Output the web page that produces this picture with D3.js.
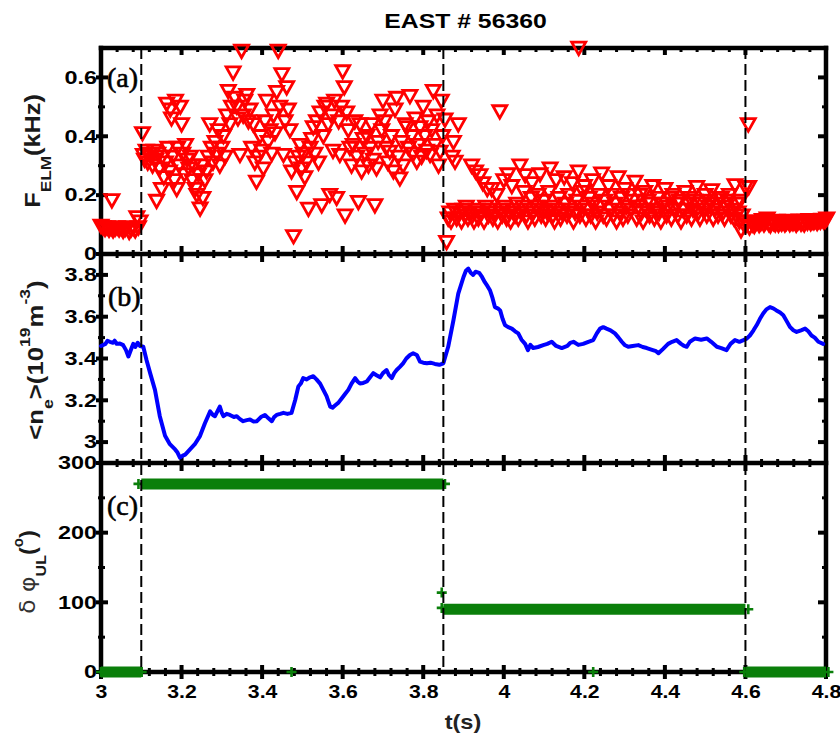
<!DOCTYPE html>
<html>
<head>
<meta charset="utf-8">
<script src="https://cdn.jsdelivr.net/npm/d3@7"></script>
<style>
  html, body { margin: 0; padding: 0; background: #fff; }
  svg { display: block; }
</style>
</head>
<body>
<svg id="chart" width="840" height="736"></svg>
<script>
// ---------------------------------------------------------------
// EAST shot 56360: ELM frequency, line-averaged density and the
// upper/lower RMP coil phase difference versus time.
// ---------------------------------------------------------------

// ELM frequency (kHz) as [time (s), frequency] pairs, by time window
const elmBeforeRmp = [
  [3.000,0.095],[3.005,0.090],[3.010,0.085],[3.015,0.090],[3.020,0.082],[3.025,0.088],
  [3.027,0.182],[3.030,0.080],[3.035,0.086],[3.040,0.090],[3.045,0.083],[3.050,0.088],
  [3.055,0.078],[3.060,0.085],[3.065,0.090],[3.070,0.075],[3.075,0.084],[3.080,0.088],
  [3.085,0.080],[3.089,0.124],[3.093,0.090],[3.097,0.110]
];
const elmPhase270 = [
  [3.103,0.41],[3.105,0.336],[3.108,0.32],[3.112,0.35],[3.116,0.31],[3.120,0.34],[3.124,0.33],
  [3.128,0.30],[3.132,0.35],[3.136,0.32],[3.138,0.18],[3.141,0.34],[3.145,0.29],[3.150,0.22],
  [3.152,0.33],[3.156,0.26],[3.160,0.31],[3.163,0.51],[3.166,0.36],[3.170,0.28],[3.172,0.49],
  [3.175,0.46],[3.178,0.33],[3.182,0.25],[3.185,0.52],[3.188,0.22],[3.190,0.36],[3.194,0.30],
  [3.197,0.50],[3.200,0.44],[3.203,0.34],[3.207,0.27],[3.210,0.37],[3.214,0.32],[3.218,0.29],
  [3.222,0.33],[3.226,0.25],[3.230,0.30],[3.234,0.22],[3.238,0.20],[3.242,0.27],[3.246,0.154],
  [3.250,0.30],[3.253,0.19],[3.258,0.25],[3.262,0.28],[3.266,0.33],[3.270,0.44],[3.274,0.36],
  [3.278,0.31],[3.283,0.38],[3.287,0.34],[3.291,0.42],[3.295,0.30],[3.300,0.36],[3.304,0.40],
  [3.308,0.33],[3.312,0.47],[3.316,0.553],[3.320,0.44],[3.324,0.50],[3.328,0.616],[3.332,0.53],
  [3.337,0.50],[3.340,0.46],[3.345,0.336],[3.349,0.69],[3.353,0.47],[3.357,0.52],[3.362,0.54],
  [3.366,0.45],[3.370,0.49],[3.374,0.36],[3.378,0.44],[3.382,0.31],[3.386,0.245],[3.390,0.33],
  [3.395,0.40],[3.399,0.35],[3.403,0.29],[3.407,0.45],[3.411,0.52],[3.415,0.38],[3.420,0.42],
  [3.424,0.34],[3.428,0.47],[3.432,0.41],[3.436,0.55],[3.440,0.69],[3.444,0.50],[3.449,0.61],
  [3.453,0.336],[3.457,0.45],[3.461,0.566],[3.465,0.49],[3.469,0.42],[3.473,0.28],[3.478,0.06],
  [3.482,0.31],[3.486,0.21],[3.490,0.33],[3.494,0.37],[3.498,0.29],[3.502,0.34],[3.506,0.26],
  [3.510,0.31],[3.515,0.153],[3.519,0.36],[3.523,0.39],[3.527,0.43],[3.531,0.34],[3.535,0.45],
  [3.540,0.31],[3.544,0.48],[3.548,0.165],[3.552,0.40],[3.556,0.50],[3.560,0.51],[3.564,0.44],
  [3.568,0.20],[3.572,0.47],[3.576,0.35],[3.580,0.52],[3.585,0.19],[3.590,0.45],[3.593,0.336],
  [3.597,0.50],[3.600,0.62],[3.604,0.566],[3.606,0.13],[3.610,0.48],[3.614,0.42],[3.618,0.36],
  [3.622,0.30],[3.626,0.37],[3.630,0.45],[3.635,0.33],[3.639,0.176],[3.643,0.44],[3.647,0.28],
  [3.651,0.39],[3.655,0.34],[3.660,0.40],[3.664,0.30],[3.668,0.36],[3.672,0.44],[3.676,0.32],
  [3.680,0.165],[3.684,0.29],[3.688,0.38],[3.693,0.47],[3.697,0.42],[3.700,0.52],[3.704,0.45],
  [3.708,0.36],[3.712,0.31],[3.717,0.347],[3.721,0.40],[3.726,0.28],[3.730,0.49],[3.734,0.53],
  [3.738,0.33],[3.742,0.256],[3.746,0.38],[3.750,0.30],[3.755,0.44],[3.759,0.43],[3.763,0.36],
  [3.767,0.536],[3.771,0.40],[3.775,0.34],[3.780,0.46],[3.784,0.313],[3.788,0.37],[3.792,0.43],
  [3.796,0.33],[3.800,0.50],[3.804,0.40],[3.808,0.35],[3.812,0.45],[3.817,0.336],[3.821,0.42],
  [3.825,0.553],[3.829,0.37],[3.834,0.47],[3.838,0.30],[3.842,0.347],[3.845,0.52],[3.848,0.40]
];
const elmPhase90 = [
  [3.854,0.456],[3.858,0.04],[3.862,0.12],[3.866,0.14],[3.869,0.11],[3.872,0.33],[3.875,0.38],
  [3.878,0.15],[3.879,0.313],[3.883,0.12],[3.887,0.44],[3.890,0.14],[3.895,0.11],[3.899,0.15],
  [3.903,0.13],[3.907,0.16],[3.911,0.12],[3.915,0.14],[3.920,0.30],[3.922,0.13],[3.926,0.11],
  [3.930,0.28],[3.933,0.15],[3.937,0.12],[3.941,0.267],[3.944,0.14],[3.948,0.24],[3.951,0.11],
  [3.955,0.16],[3.959,0.22],[3.962,0.13],[3.966,0.15],[3.970,0.22],[3.973,0.12],[3.977,0.14],
  [3.982,0.20],[3.985,0.11],[3.990,0.484],[3.992,0.15],[3.996,0.13],[4.000,0.25],[4.003,0.16],
  [4.007,0.12],[4.010,0.27],[4.013,0.14],[4.017,0.11],[4.020,0.23],[4.024,0.15],[4.028,0.13],
  [4.032,0.17],[4.036,0.12],[4.040,0.30],[4.043,0.14],[4.047,0.16],[4.050,0.21],[4.053,0.267],
  [4.056,0.13],[4.060,0.11],[4.064,0.15],[4.068,0.19],[4.070,0.24],[4.073,0.14],[4.077,0.12],
  [4.081,0.16],[4.085,0.20],[4.090,0.27],[4.093,0.13],[4.097,0.15],[4.100,0.18],[4.104,0.12],
  [4.108,0.14],[4.112,0.21],[4.115,0.29],[4.118,0.16],[4.122,0.13],[4.126,0.11],[4.130,0.25],
  [4.133,0.15],[4.137,0.19],[4.141,0.12],[4.145,0.14],[4.150,0.26],[4.153,0.17],[4.157,0.13],
  [4.161,0.20],[4.165,0.15],[4.170,0.24],[4.173,0.11],[4.177,0.14],[4.181,0.18],[4.185,0.28],
  [4.186,0.70],[4.189,0.13],[4.193,0.16],[4.197,0.21],[4.200,0.23],[4.204,0.12],[4.208,0.15],
  [4.212,0.19],[4.216,0.13],[4.220,0.25],[4.224,0.17],[4.228,0.11],[4.232,0.14],[4.236,0.20],
  [4.240,0.16],[4.243,0.273],[4.247,0.13],[4.251,0.18],[4.255,0.12],[4.260,0.23],[4.264,0.15],
  [4.268,0.20],[4.272,0.13],[4.276,0.17],[4.280,0.11],[4.284,0.26],[4.288,0.14],[4.292,0.19],
  [4.296,0.12],[4.300,0.22],[4.304,0.16],[4.308,0.13],[4.312,0.20],[4.316,0.15],[4.320,0.18],
  [4.326,0.245],[4.330,0.12],[4.334,0.16],[4.338,0.20],[4.342,0.14],[4.346,0.11],[4.350,0.21],
  [4.354,0.15],[4.358,0.18],[4.362,0.13],[4.366,0.17],[4.370,0.23],[4.374,0.12],[4.378,0.15],
  [4.382,0.19],[4.386,0.14],[4.390,0.11],[4.394,0.17],[4.400,0.22],[4.404,0.13],[4.408,0.16],
  [4.412,0.19],[4.416,0.12],[4.420,0.20],[4.424,0.15],[4.428,0.17],[4.432,0.13],[4.436,0.18],
  [4.440,0.11],[4.445,0.15],[4.450,0.21],[4.454,0.13],[4.458,0.17],[4.462,0.19],[4.466,0.12],
  [4.470,0.15],[4.474,0.18],[4.479,0.227],[4.483,0.14],[4.487,0.12],[4.491,0.17],[4.495,0.15],
  [4.500,0.20],[4.504,0.13],[4.508,0.16],[4.512,0.18],[4.516,0.216],[4.520,0.12],[4.524,0.15],
  [4.528,0.17],[4.532,0.13],[4.536,0.19],[4.540,0.19],[4.544,0.14],[4.548,0.12],[4.552,0.16],
  [4.556,0.18],[4.560,0.20],[4.564,0.13],[4.568,0.15],[4.572,0.12],[4.574,0.233],[4.578,0.17],
  [4.582,0.14],[4.585,0.11],[4.587,0.18],[4.589,0.08],[4.592,0.13],[4.596,0.10],[4.600,0.227]
];
const elmAfterRmp = [
  [4.603,0.100],[4.607,0.440],[4.608,0.227],[4.610,0.090],[4.614,0.110],[4.618,0.100],
  [4.622,0.095],[4.626,0.105],[4.630,0.110],[4.634,0.098],[4.638,0.104],[4.642,0.115],
  [4.646,0.100],[4.650,0.108],[4.654,0.120],[4.658,0.102],[4.662,0.097],[4.666,0.110],
  [4.670,0.105],[4.674,0.100],[4.678,0.112],[4.682,0.099],[4.686,0.107],[4.690,0.103],
  [4.694,0.110],[4.698,0.100],[4.702,0.106],[4.706,0.112],[4.710,0.101],[4.714,0.108],
  [4.718,0.104],[4.722,0.110],[4.726,0.099],[4.730,0.106],[4.734,0.113],[4.738,0.103],
  [4.742,0.108],[4.746,0.100],[4.750,0.112],[4.754,0.106],[4.758,0.115],[4.762,0.104],
  [4.766,0.110],[4.770,0.108],[4.774,0.114],[4.778,0.105],[4.782,0.112],[4.786,0.109],
  [4.790,0.116],[4.794,0.110],[4.798,0.113],[4.802,0.120]
];

// line-averaged density <ne> (1e19 m^-3) as [time, value]
const densityTrace = [
  [3.000,3.46],[3.011,3.47],[3.016,3.485],[3.022,3.48],[3.030,3.475],[3.034,3.485],[3.039,3.47],
  [3.047,3.472],[3.055,3.464],[3.062,3.44],[3.068,3.41],[3.072,3.43],[3.076,3.45],[3.080,3.47],
  [3.085,3.455],[3.091,3.475],[3.097,3.46],[3.105,3.456],
  [3.113,3.393],[3.122,3.33],[3.134,3.25],[3.146,3.124],[3.159,3.03],[3.171,2.99],[3.184,2.965],
  [3.190,2.95],[3.196,2.926],[3.203,2.935],[3.209,2.94],[3.221,2.965],[3.233,2.99],[3.246,3.03],
  [3.258,3.09],[3.271,3.147],[3.278,3.13],[3.283,3.124],[3.295,3.17],[3.300,3.14],[3.304,3.124],
  [3.312,3.135],[3.320,3.13],[3.330,3.12],[3.337,3.124],[3.345,3.11],[3.353,3.10],[3.362,3.105],
  [3.370,3.108],[3.379,3.098],[3.387,3.10],[3.397,3.12],[3.407,3.13],[3.415,3.115],[3.424,3.10],
  [3.430,3.12],[3.436,3.13],[3.445,3.135],[3.453,3.14],[3.463,3.135],[3.473,3.14],[3.482,3.20],
  [3.490,3.266],[3.496,3.28],[3.502,3.306],[3.510,3.30],[3.519,3.31],[3.527,3.315],[3.535,3.30],
  [3.544,3.28],[3.552,3.25],[3.560,3.22],[3.569,3.17],[3.575,3.165],[3.581,3.175],[3.590,3.19],
  [3.598,3.21],[3.606,3.23],[3.614,3.25],[3.622,3.28],[3.631,3.306],[3.637,3.29],[3.643,3.28],
  [3.651,3.283],[3.660,3.29],[3.668,3.31],[3.676,3.33],[3.684,3.32],[3.693,3.31],[3.700,3.33],
  [3.709,3.345],[3.715,3.32],[3.722,3.306],[3.728,3.33],[3.734,3.345],[3.742,3.36],[3.750,3.377],
  [3.758,3.40],[3.767,3.417],[3.775,3.425],[3.784,3.417],[3.792,3.385],[3.800,3.38],[3.809,3.377],
  [3.818,3.38],[3.829,3.374],[3.840,3.37],[3.850,3.377],[3.862,3.456],[3.875,3.583],[3.887,3.71],
  [3.900,3.79],[3.906,3.82],[3.912,3.83],[3.918,3.81],[3.924,3.80],[3.930,3.815],[3.939,3.81],
  [3.946,3.79],[3.953,3.765],[3.960,3.745],[3.966,3.725],[3.972,3.69],[3.978,3.646],[3.985,3.64],
  [3.991,3.63],[3.997,3.59],[4.003,3.56],[4.011,3.55],[4.020,3.543],[4.028,3.53],[4.036,3.52],
  [4.044,3.49],[4.053,3.47],[4.060,3.44],[4.066,3.465],[4.073,3.45],[4.085,3.455],[4.098,3.464],
  [4.108,3.47],[4.119,3.48],[4.130,3.46],[4.144,3.45],[4.158,3.46],[4.165,3.475],[4.173,3.48],
  [4.185,3.465],[4.197,3.47],[4.210,3.48],[4.222,3.488],[4.231,3.52],[4.239,3.543],[4.247,3.55],
  [4.255,3.543],[4.265,3.535],[4.276,3.52],[4.285,3.50],[4.293,3.48],[4.300,3.465],[4.309,3.456],
  [4.320,3.46],[4.334,3.464],[4.345,3.455],[4.355,3.45],[4.370,3.44],[4.378,3.435],[4.384,3.425],
  [4.395,3.445],[4.408,3.47],[4.418,3.48],[4.429,3.488],[4.440,3.47],[4.448,3.46],[4.454,3.456],
  [4.462,3.48],[4.475,3.496],[4.490,3.49],[4.504,3.496],[4.515,3.48],[4.529,3.456],[4.540,3.45],
  [4.553,3.44],[4.563,3.47],[4.574,3.488],[4.585,3.48],[4.595,3.488],[4.603,3.495],[4.611,3.51],
  [4.620,3.535],[4.628,3.56],[4.636,3.59],[4.644,3.615],[4.652,3.635],[4.661,3.646],[4.669,3.64],
  [4.677,3.63],[4.686,3.62],[4.694,3.607],[4.702,3.58],[4.711,3.55],[4.719,3.535],[4.727,3.527],
  [4.738,3.535],[4.748,3.543],[4.756,3.53],[4.764,3.51],[4.772,3.5],[4.781,3.48],[4.793,3.47]
];

// RMP phase difference (deg): constant plateaus [start, end, value] and isolated samples [time, value]
const phasePlateaus = [
  [3.000, 3.100, 0],
  [3.100, 3.850, 270],
  [3.850, 4.600, 90],
  [4.600, 4.800, 0]
];
const phaseSamples = [
  [3.000,0],[3.093,270],[3.101,0],[3.473,0],[3.854,270],[3.846,114],[3.846,92],
  [4.222,0],[4.607,90],[4.597,0],[4.806,0]
];

// times where the coil phasing was switched
const switchTimes = [3.1, 3.85, 4.6];

// tick values
const timeTicks = [3, 3.2, 3.4, 3.6, 3.8, 4, 4.2, 4.4, 4.6, 4.8];
const freqTicks = [0, 0.2, 0.4, 0.6];
const freqMinorTicks = [0.1, 0.3, 0.5];
const densityTicks = [3, 3.2, 3.4, 3.6, 3.8];
const densityMinorTicks = [3.1, 3.3, 3.5, 3.7];
const phaseTicks = [0, 100, 200, 300];
const phaseMinorTicks = [50, 150, 250];

// ---------------------------------------------------------------
const svg = d3.select("#chart");
const SANS = "'Liberation Sans', Arial, Helvetica, sans-serif";
const SERIF = "'Liberation Serif', 'Times New Roman', serif";

const x = d3.scaleLinear().domain([3, 4.8]).range([101, 826]);
const yF = d3.scaleLinear().domain([0, 0.7]).range([254, 48]);
const yN = d3.scaleLinear().domain([2.9, 3.9]).range([463, 254]);
const yP = d3.scaleLinear().domain([0, 300]).range([672, 463]);

const panels = [
  { y: yF, major: freqTicks, minor: freqMinorTicks, fmt: d => d === 0 ? "0" : d3.format(".1f")(d) },
  { y: yN, major: densityTicks, minor: densityMinorTicks, fmt: d => d === 3 ? "3" : d3.format(".1f")(d) },
  { y: yP, major: phaseTicks, minor: phaseMinorTicks, fmt: d3.format("d") }
];

const [xL, xR] = x.range();
const frameG = svg.append("g");
const tickG = svg.append("g").attr("stroke", "#000");

// minor time ticks: five intervals between labelled ticks
const timeMinor = [];
for (let i = 0; i < timeTicks.length - 1; i++) {
  const a = timeTicks[i], b = timeTicks[i + 1];
  for (let k = 1; k < 5; k++) timeMinor.push(a + (b - a) * k / 5);
}

// horizontal boundary lines with their time ticks
const hLines = [
  { y: yF.range()[1], up: 0, down: 7 },
  { y: yF.range()[0], up: 8, down: 8 },
  { y: yN.range()[0], up: 8, down: 8 },
  { y: yP.range()[0], up: 7, down: 7 }
];
hLines.forEach(h => {
  tickG.selectAll(null).data(timeTicks).join("line")
    .attr("x1", d => x(d)).attr("x2", d => x(d))
    .attr("y1", h.y - h.up).attr("y2", h.y + h.down)
    .attr("stroke-width", 4);
  tickG.selectAll(null).data(timeMinor).join("line")
    .attr("x1", d => x(d)).attr("x2", d => x(d))
    .attr("y1", h.y - Math.min(h.up, 4)).attr("y2", h.y + Math.min(h.down, 4))
    .attr("stroke-width", 3);
});

// value ticks on the left (crossing) and right (inward) edges
panels.forEach(p => {
  tickG.selectAll(null).data(p.major).join("line")
    .attr("x1", xL - 5).attr("x2", xL + 7)
    .attr("y1", d => p.y(d)).attr("y2", d => p.y(d)).attr("stroke-width", 4);
  tickG.selectAll(null).data(p.minor).join("line")
    .attr("x1", xL - 3).attr("x2", xL + 4)
    .attr("y1", d => p.y(d)).attr("y2", d => p.y(d)).attr("stroke-width", 3);
  tickG.selectAll(null).data(p.major).join("line")
    .attr("x1", xR - 8).attr("x2", xR)
    .attr("y1", d => p.y(d)).attr("y2", d => p.y(d)).attr("stroke-width", 4);
  tickG.selectAll(null).data(p.minor).join("line")
    .attr("x1", xR - 4).attr("x2", xR)
    .attr("y1", d => p.y(d)).attr("y2", d => p.y(d)).attr("stroke-width", 3);

  // tick labels through d3 axes
  const ax = svg.append("g").attr("transform", `translate(${xL},0)`)
    .call(d3.axisLeft(p.y).tickValues(p.major).tickFormat(p.fmt).tickSize(0).tickPadding(3));
  ax.select(".domain").remove();
  ax.attr("font-family", SANS).attr("font-size", 18).attr("font-weight", "bold");
  ax.selectAll("text").attr("fill", "#000").attr("transform", "scale(1.3,1)");
});

// frame lines
hLines.forEach(h => {
  frameG.append("line").attr("x1", xL).attr("x2", xR).attr("y1", h.y).attr("y2", h.y)
    .attr("stroke", "#000").attr("stroke-width", 4.5).attr("stroke-linecap", "square");
});
[xL, xR].forEach(xx => {
  frameG.append("line").attr("x1", xx).attr("x2", xx)
    .attr("y1", yF.range()[1]).attr("y2", yP.range()[0])
    .attr("stroke", "#000").attr("stroke-width", 4.5).attr("stroke-linecap", "square");
});

// time axis labels
const xAx = svg.append("g").attr("transform", `translate(0,${yP.range()[0]})`)
  .call(d3.axisBottom(x).tickValues(timeTicks).tickFormat(d3.format("~g")).tickSize(0).tickPadding(13));
xAx.select(".domain").remove();
xAx.attr("font-family", SANS).attr("font-size", 18).attr("font-weight", "bold");
xAx.selectAll("text").attr("fill", "#000").attr("transform", "scale(1.18,1)");

// ---- panel (a): ELM frequency, hollow down-pointing triangles
const tri = "M-7,-5.8L7,-5.8L0,6.6Z";
const elmAll = elmBeforeRmp.concat(elmPhase270, elmPhase90, elmAfterRmp);
svg.append("g").selectAll("path").data(elmAll).join("path")
  .attr("d", tri)
  .attr("transform", d => `translate(${x(d[0])},${yF(d[1])})`)
  .attr("fill", "none").attr("stroke", "#ff0000").attr("stroke-width", 2.8)
  .attr("stroke-linejoin", "miter");

// ---- panel (b): density trace
svg.append("path").datum(densityTrace)
  .attr("d", d3.line().x(d => x(d[0])).y(d => yN(d[1])))
  .attr("fill", "none").attr("stroke", "#0000ff").attr("stroke-width", 4)
  .attr("stroke-linejoin", "round").attr("stroke-linecap", "round");

// ---- panel (c): phase difference plateaus drawn as dense "+" bands
const green = "#0a7f0a";
svg.append("g").selectAll("line").data(phasePlateaus).join("line")
  .attr("x1", d => x(d[0])).attr("x2", d => x(d[1]))
  .attr("y1", d => yP(d[2])).attr("y2", d => yP(d[2]))
  .attr("stroke", green).attr("stroke-width", 11);
const plus = "M-5,0H5M0,-5V5";
svg.append("g").selectAll("path").data(phaseSamples).join("path")
  .attr("d", plus)
  .attr("transform", d => `translate(${x(d[0])},${yP(d[1])})`)
  .attr("fill", "none").attr("stroke", green).attr("stroke-width", 2.6);

// ---- switching times: dashed verticals through all panels
svg.append("g").selectAll("line").data(switchTimes).join("line")
  .attr("x1", d => x(d)).attr("x2", d => x(d))
  .attr("y1", yF.range()[1]).attr("y2", yP.range()[0])
  .attr("stroke", "#000").attr("stroke-width", 2).attr("stroke-dasharray", "11,5");

// ---- text
function scaledText(tx, ty, rot, sx, opts) {
  const t = svg.append("text")
    .attr("transform", `translate(${tx},${ty})` + (rot ? ` rotate(${rot})` : "") + ` scale(${sx},1)`)
    .attr("text-anchor", opts.anchor || "middle")
    .attr("font-family", opts.family || SANS)
    .attr("font-weight", opts.weight || "bold")
    .attr("font-size", opts.size)
    .attr("fill", opts.fill || "#000");
  if (opts.stroke) t.attr("stroke", opts.fill || "#000").attr("stroke-width", opts.stroke);
  (opts.parts || []).forEach(p => {
    const s = t.append("tspan").text(p.t);
    if (p.dy) s.attr("dy", p.dy);
    if (p.size) s.attr("font-size", p.size);
    if (p.family) s.attr("font-family", p.family);
    if (p.weight) s.attr("font-weight", p.weight);
    if (p.fill) s.attr("fill", p.fill);
  });
  return t;
}

scaledText(465.5, 28, 0, 1.18, { size: 21, parts: [{ t: "EAST # 56360" }] });
scaledText(463, 729, 0, 1.18, { size: 20, fill: "#222", parts: [{ t: "t(s)" }] });

scaledText(40, 151, -90, 1.15, { size: 22, fill: "#1a1a1a", parts: [
  { t: "F" }, { t: "ELM", size: 15, dy: 11 }, { t: "(kHz)", size: 22, dy: -11 }
]});
scaledText(43, 360, -90, 1.17, { size: 22, fill: "#1a1a1a", parts: [
  { t: "<n" }, { t: "e", size: 15, dy: 10 }, { t: ">(10", size: 22, dy: -10 },
  { t: "19", size: 15, dy: -13 }, { t: "m", size: 22, dy: 13 },
  { t: "-3", size: 15, dy: -13 }, { t: ")", size: 22, dy: 13 }
]});
scaledText(35, 572, -90, 1.07, { size: 22, fill: "#1a1a1a", parts: [
  { t: "δ φ", family: "'DejaVu Sans', sans-serif", weight: "normal", fill: "#333" },
  { t: "UL", size: 15, dy: 11 }, { t: "(", size: 22, dy: -11 },
  { t: "o", size: 14, dy: -12 }, { t: ")", size: 22, dy: 12 }
]});

// panel letters
const letterStyle = { anchor: "start", family: SERIF, weight: "normal", size: 28, stroke: 0.6 };
scaledText(107, 87, 0, 1.0, Object.assign({ parts: [{ t: "(a)" }] }, letterStyle));
scaledText(108, 306, 0, 1.0, Object.assign({ parts: [{ t: "(b)" }] }, letterStyle));
scaledText(107, 515, 0, 1.0, Object.assign({ parts: [{ t: "(c)" }] }, letterStyle));
</script>
</body>
</html>
